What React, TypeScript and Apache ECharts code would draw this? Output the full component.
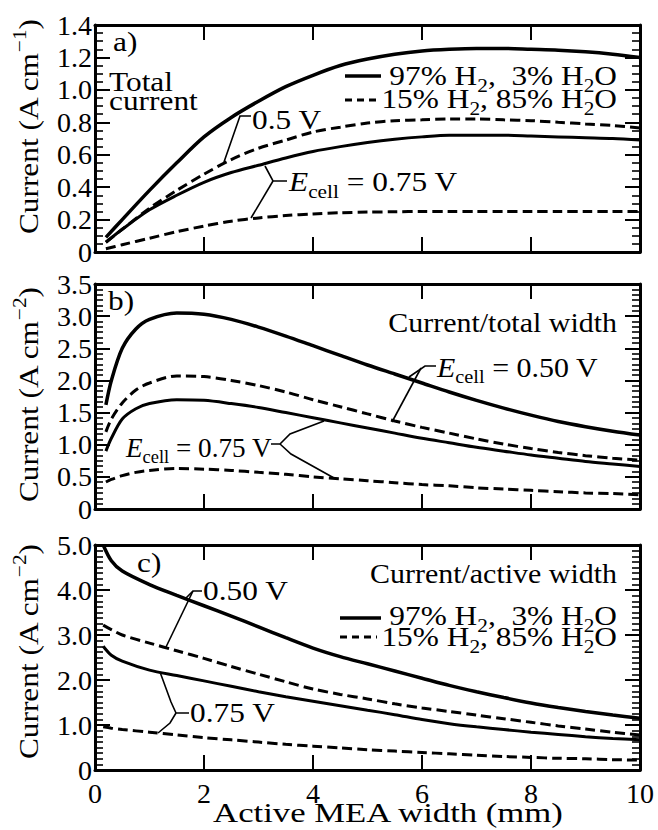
import React, { useEffect, useRef } from "react";
import * as echarts from "echarts";

const FONT = "Liberation Serif";

// ---------- data ----------
const xTicks = [0, 2, 4, 6, 8, 10];

// panel a: total current (A cm^-1)
const xA = [0.2, 0.5, 1, 1.5, 2, 2.5, 3, 3.5, 4, 4.5, 5, 5.5, 6, 6.5, 7, 7.5, 8, 8.5, 9, 9.5, 10];
const aSolid050 = [0.09, 0.2, 0.38, 0.55, 0.71, 0.83, 0.93, 1.02, 1.09, 1.15, 1.19, 1.22, 1.24, 1.25, 1.255, 1.255, 1.25, 1.245, 1.235, 1.22, 1.2];
const aDash050 = [0.06, 0.14, 0.27, 0.38, 0.48, 0.57, 0.64, 0.69, 0.74, 0.77, 0.795, 0.81, 0.815, 0.82, 0.82, 0.815, 0.81, 0.8, 0.79, 0.78, 0.765];
const aSolid075 = [0.06, 0.14, 0.26, 0.35, 0.43, 0.49, 0.535, 0.58, 0.62, 0.65, 0.675, 0.695, 0.71, 0.72, 0.72, 0.72, 0.715, 0.71, 0.705, 0.7, 0.69];
const aDash075 = [0.02, 0.045, 0.085, 0.125, 0.16, 0.19, 0.21, 0.225, 0.235, 0.242, 0.246, 0.248, 0.25, 0.25, 0.25, 0.25, 0.25, 0.25, 0.25, 0.25, 0.25];

// panel b: current / total width (A cm^-2)
const xB = [0.2, 0.3, 0.5, 0.75, 1, 1.5, 2, 2.5, 3, 3.5, 4, 4.5, 5, 5.5, 6, 6.5, 7, 7.5, 8, 8.5, 9, 9.5, 10];
const bSolid050 = [1.62, 2.0, 2.5, 2.8, 2.95, 3.05, 3.03, 2.95, 2.83, 2.69, 2.54, 2.39, 2.24, 2.1, 1.96, 1.82, 1.69, 1.57, 1.46, 1.36, 1.28, 1.21, 1.15];
const bDash050 = [1.2, 1.4, 1.65, 1.85, 1.96, 2.07, 2.06, 2.0, 1.92, 1.82, 1.7, 1.59, 1.48, 1.37, 1.27, 1.18, 1.09, 1.01, 0.94, 0.88, 0.83, 0.79, 0.76];
const bSolid075 = [0.9, 1.1, 1.4, 1.56, 1.64, 1.7, 1.69, 1.64, 1.58, 1.5, 1.42, 1.34, 1.26, 1.18, 1.1, 1.03, 0.96, 0.9, 0.84, 0.79, 0.74, 0.7, 0.66];
const bDash075 = [0.42, 0.46, 0.52, 0.57, 0.6, 0.63, 0.62, 0.6, 0.57, 0.54, 0.5, 0.47, 0.44, 0.41, 0.38, 0.36, 0.33, 0.31, 0.29, 0.27, 0.25, 0.24, 0.22];

// panel c: current / active width (A cm^-2)
const xC = [0.15, 0.3, 0.5, 1, 1.5, 2, 2.5, 3, 3.5, 4, 4.5, 5, 5.5, 6, 6.5, 7, 7.5, 8, 8.5, 9, 9.5, 10];
const cSolid050 = [5.0, 4.65, 4.42, 4.12, 3.88, 3.65, 3.42, 3.18, 2.94, 2.71, 2.52, 2.36, 2.2, 2.04, 1.88, 1.74, 1.61, 1.49, 1.39, 1.3, 1.22, 1.15];
const cDash050 = [3.22, 3.12, 3.0, 2.82, 2.65, 2.48, 2.3, 2.13, 1.96, 1.8, 1.68, 1.58, 1.47, 1.38, 1.3, 1.22, 1.14, 1.06, 0.98, 0.91, 0.84, 0.78];
const cSolid075 = [2.75, 2.55, 2.42, 2.22, 2.1, 1.98, 1.86, 1.74, 1.63, 1.53, 1.43, 1.33, 1.23, 1.12, 1.03, 0.96, 0.9, 0.84, 0.79, 0.74, 0.7, 0.67];
const cDash075 = [0.96, 0.93, 0.9, 0.84, 0.78, 0.72, 0.67, 0.62, 0.57, 0.53, 0.49, 0.45, 0.42, 0.39, 0.36, 0.33, 0.3, 0.28, 0.26, 0.25, 0.23, 0.22];

const yMax = [1.4, 3.5, 5.0];
const yInterval = [0.2, 0.5, 1.0];
const yMinorSplit = [4, 6, 8];

const legend1 = "97% H{sub|2},  3% H{sub|2}O";
const legend2 = "15% H{sub|2}, 85% H{sub|2}O";

// ---------- helpers ----------
const zip = (xs: number[], ys: number[]) => xs.map((x, i) => [x, ys[i]]);

const FS = 28;
const richStyles = (size: number) => ({
  sub: { fontSize: size * 0.68, fontFamily: FONT, fill: "#000", color: "#000", verticalAlign: "bottom", lineHeight: size * 0.68 },
  sup: { fontSize: size * 0.68, fontFamily: FONT, fill: "#000", color: "#000", verticalAlign: "top", lineHeight: size * 0.68 },
  it: { fontSize: size, fontFamily: FONT, fontStyle: "italic", fill: "#000", color: "#000", lineHeight: size },
});

function txt(x: number, y: number, text: string, align: string = "left", extra: any = {}, lh = 38) {
  return {
    type: "text",
    x,
    y,
    scaleX: 1.12,
    ...extra,
    style: {
      text,
      fontSize: FS,
      fontFamily: FONT,
      fill: "#000",
      align,
      verticalAlign: "middle",
      lineHeight: lh,
      rich: richStyles(FS),
    },
  };
}

function pl(points: number[][], w = 1.6) {
  return { type: "polyline", shape: { points }, style: { stroke: "#000", lineWidth: w, fill: null } };
}

function ln(x1: number, y1: number, x2: number, y2: number, w: number, dash?: number[]) {
  return {
    type: "line",
    shape: { x1, y1, x2, y2 },
    style: { stroke: "#000", lineWidth: w, lineDash: dash || null },
  };
}

const grids = [
  { left: 95, top: 25, width: 545, height: 227 },
  { left: 95, top: 284, width: 545, height: 225 },
  { left: 95, top: 545, width: 545, height: 225 },
];

const axisLine = { show: true, onZero: false, lineStyle: { color: "#000", width: 3 } };

function buildOption() {
  const xAxis: any[] = [];
  const yAxis: any[] = [];
  grids.forEach((_, i) => {
    xAxis.push({
      type: "value",
      gridIndex: i,
      position: "bottom",
      min: 0,
      max: 10,
      interval: 2,
      axisLine,
      axisTick: { show: true, inside: true, length: 15, lineStyle: { color: "#000", width: 2 } },
      splitLine: { show: false },
      axisLabel: {
        show: i === 2,
        margin: 9,
        fontSize: FS,
        fontFamily: FONT,
        color: "#000",
        formatter: (v: number) => (xTicks.includes(v) ? String(v) : ""),
      },
    });
    xAxis.push({
      type: "value",
      gridIndex: i,
      position: "top",
      min: 0,
      max: 10,
      interval: 2,
      axisLine,
      axisTick: { show: true, inside: true, length: 15, lineStyle: { color: "#000", width: 2 } },
      splitLine: { show: false },
      axisLabel: { show: false },
    });
    const yCommon = {
      type: "value",
      gridIndex: i,
      min: 0,
      max: yMax[i],
      interval: yInterval[i],
      axisLine,
      axisTick: { show: true, inside: true, length: 15, lineStyle: { color: "#000", width: 2 } },
      minorTick: { show: true, splitNumber: yMinorSplit[i], length: 8, lineStyle: { color: "#000", width: 1.6 } },
      splitLine: { show: false },
      minorSplitLine: { show: false },
    };
    yAxis.push({
      ...yCommon,
      position: "left",
      axisLabel: {
        show: true,
        margin: 3,
        fontSize: FS,
        fontFamily: FONT,
        color: "#000",
        formatter: (v: number) => (v === 0 ? "0" : v.toFixed(1)),
      },
    });
    yAxis.push({ ...yCommon, position: "right", axisLabel: { show: false } });
  });

  const solid = (w: number) => ({ color: "#000", width: w, type: "solid" });
  const dashed = { color: "#000", width: 3, type: [10, 5] };
  const mk = (name: string, gi: number, data: number[][], lineStyle: any) => ({
    name,
    type: "line",
    xAxisIndex: gi * 2,
    yAxisIndex: gi * 2,
    data,
    showSymbol: false,
    symbol: "none",
    smooth: 0.3,
    lineStyle,
    silent: true,
  });

  const series = [
    mk("a 97% 0.50 V", 0, zip(xA, aSolid050), solid(3.5)),
    mk("a 15% 0.50 V", 0, zip(xA, aDash050), dashed),
    mk("a 97% 0.75 V", 0, zip(xA, aSolid075), solid(3)),
    mk("a 15% 0.75 V", 0, zip(xA, aDash075), dashed),
    mk("b 97% 0.50 V", 1, zip(xB, bSolid050), solid(3.5)),
    mk("b 15% 0.50 V", 1, zip(xB, bDash050), dashed),
    mk("b 97% 0.75 V", 1, zip(xB, bSolid075), solid(3)),
    mk("b 15% 0.75 V", 1, zip(xB, bDash075), dashed),
    mk("c 97% 0.50 V", 2, zip(xC, cSolid050), solid(3.5)),
    mk("c 15% 0.50 V", 2, zip(xC, cDash050), dashed),
    mk("c 97% 0.75 V", 2, zip(xC, cSolid075), solid(3)),
    mk("c 15% 0.75 V", 2, zip(xC, cDash075), dashed),
  ];

  const graphic: any[] = [
    // axis titles
    txt(29, 127, "Current (A cm{sup|−1})", "center", { rotation: Math.PI / 2 }),
    txt(29, 395, "Current (A cm{sup|−2})", "center", { rotation: Math.PI / 2 }),
    txt(29, 652, "Current (A cm{sup|−2})", "center", { rotation: Math.PI / 2 }),
    txt(388, 813, "Active MEA width (mm)", "center", { scaleX: 1.24 }, 24),

    // panel a
    txt(113, 42, "a)"),
    txt(109, 82, "Total"),
    txt(109, 101, "current"),
    txt(252, 120, "0.5 V"),
    pl([[251, 116], [240, 116], [224, 162]]),
    txt(289, 182, "{it|E}{sub|cell} = 0.75 V"),
    pl([[265, 166], [273, 181], [287, 181]]),
    pl([[273, 181], [251, 218]]),
    ln(345, 76, 381, 76, 3.5),
    txt(617, 76, legend1, "right"),
    ln(345, 100, 377, 100, 3, [7, 5]),
    txt(617, 99, legend2, "right"),

    // panel b
    txt(108, 301, "b)"),
    txt(617, 322, "Current/total width", "right", { scaleX: 1.07 }),
    txt(437, 367, "{it|E}{sub|cell} = 0.50 V", "left", { scaleX: 1.07 }),
    pl([[436, 366], [425, 366], [409, 377]]),
    pl([[421, 368], [392, 422]]),
    txt(126, 447, "{it|E}{sub|cell} = 0.75 V", "left", { scaleX: 0.97 }),
    pl([[271, 444], [280, 444], [290, 434], [324, 421]]),
    pl([[280, 444], [291, 454], [334, 478]]),

    // panel c
    txt(137, 563, "c)"),
    txt(617, 573, "Current/active width", "right", { scaleX: 1.07 }),
    ln(340, 618, 381, 618, 3.5),
    txt(617, 616, legend1, "right"),
    ln(340, 637, 377, 637, 3, [7, 5]),
    txt(617, 637, legend2, "right"),
    txt(203, 591, "0.50 V"),
    pl([[202, 591], [193, 591], [186, 598]]),
    pl([[193, 591], [166, 647]]),
    txt(190, 713, "0.75 V"),
    pl([[189, 713], [176, 713], [171, 702], [160, 672]]),
    pl([[176, 713], [170, 723], [158, 733]]),
  ];

  return {
    animation: false,
    backgroundColor: "#fff",
    grid: grids,
    xAxis,
    yAxis,
    series,
    graphic,
  };
}

export default function App() {
  const ref = useRef<HTMLDivElement>(null);
  useEffect(() => {
    const chart = echarts.init(ref.current!, null, { renderer: "svg" });
    chart.setOption(buildOption() as any);
    return () => chart.dispose();
  }, []);
  return (
    <div
      ref={ref}
      style={{ position: "absolute", left: 0, top: 0, width: 658, height: 830, background: "#fff" }}
    />
  );
}
